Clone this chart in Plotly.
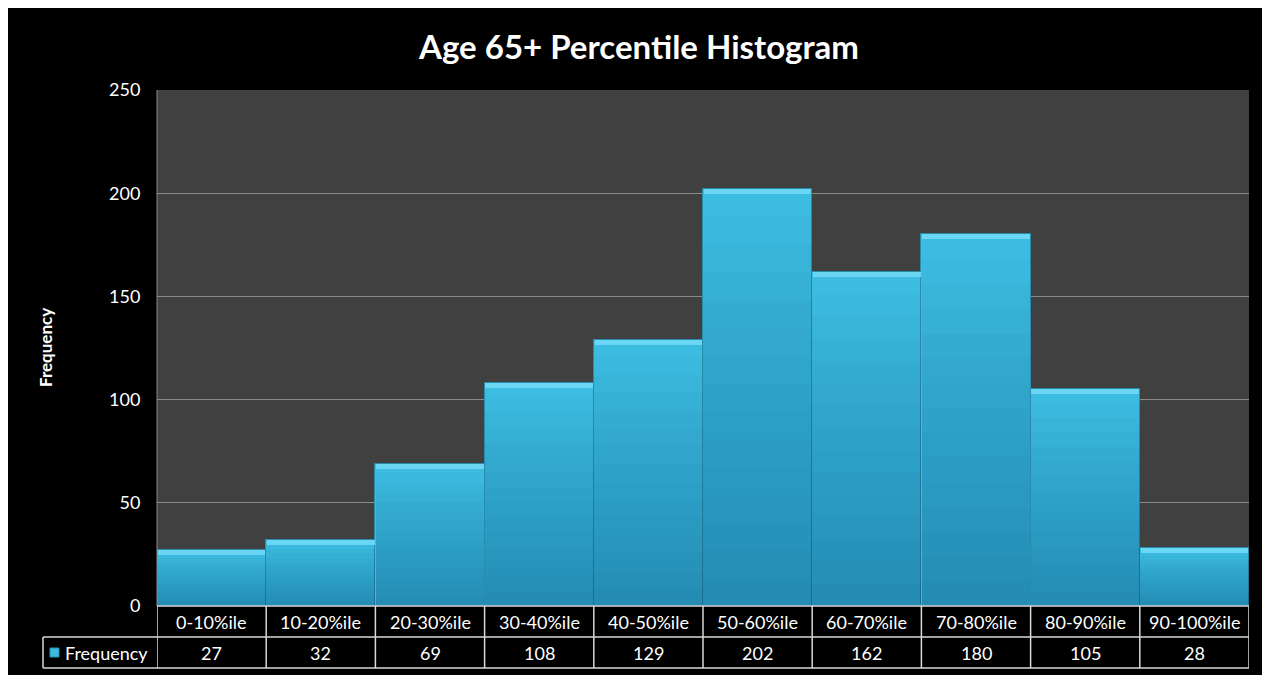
import plotly.graph_objects as go

categories = ["0-10%ile", "10-20%ile", "20-30%ile", "30-40%ile", "40-50%ile",
              "50-60%ile", "60-70%ile", "70-80%ile", "80-90%ile", "90-100%ile"]
frequency = [27, 32, 69, 108, 129, 202, 162, 180, 105, 28]
y_ticks = [0, 50, 100, 150, 200, 250]
series_name = "Frequency"
title_text = "Age 65+ Percentile Histogram"

# page has an 8px body margin; figure sized to fill the rest of the window
OX, OY = 8, 8
W, H = 1262, 667
L, R, T, B = 149, 21, 82, 69
PW, PH = W - L - R, H - T - B

def px_x(sx):
    return (sx - OX - L) / PW

def px_y(sy):
    return (H - B - (sy - OY)) / PH

FONT = "Lato"
xs = list(range(len(categories)))

fig = go.Figure()
fig.add_trace(go.Bar(x=xs, y=frequency, width=1.0,
                     marker=dict(color="#3cbce1", line=dict(color="#2a8cab", width=1)),
                     hoverinfo="skip", showlegend=False))
steps = 14
for k in range(1, steps + 1):
    frac = 1 - k / (steps + 1)
    fig.add_trace(go.Bar(x=xs, y=[v * frac for v in frequency], width=0.995,
                         marker=dict(color="rgba(0,40,70,0.022)", line=dict(width=0)),
                         hoverinfo="skip", showlegend=False))
hl = 2.4
fig.add_trace(go.Bar(x=xs, y=[hl] * len(frequency), base=[v - hl for v in frequency], width=0.985,
                     marker=dict(color="#6ad6f3", line=dict(width=0)),
                     hoverinfo="skip", showlegend=False))

shapes = []
shapes.append(dict(type="line", xref="paper", yref="paper", x0=0, x1=0, y0=0, y1=1,
                   line=dict(color="#8a8a8a", width=1)))
tcol = "#d9d9d9"
y_row1 = px_y(637)
y_row2 = px_y(668)
shapes.append(dict(type="line", xref="paper", yref="paper", x0=0, x1=1, y0=0, y1=0,
                   line=dict(color=tcol, width=1.5)))
shapes.append(dict(type="line", xref="paper", yref="paper", x0=px_x(43), x1=1, y0=y_row1, y1=y_row1,
                   line=dict(color=tcol, width=1.5)))
shapes.append(dict(type="line", xref="paper", yref="paper", x0=px_x(43), x1=1, y0=y_row2, y1=y_row2,
                   line=dict(color=tcol, width=1.5)))
shapes.append(dict(type="line", xref="paper", yref="paper", x0=px_x(43), x1=px_x(43), y0=y_row1, y1=y_row2,
                   line=dict(color=tcol, width=1.5)))
for i in range(len(categories) + 1):
    xb = i - 0.5
    shapes.append(dict(type="line", xref="x", yref="paper", x0=xb, x1=xb, y0=0, y1=y_row2,
                       line=dict(color=tcol, width=1.5)))
shapes.append(dict(type="rect", xref="paper", yref="paper", x0=px_x(50), x1=px_x(59),
                   y0=px_y(657), y1=px_y(648), fillcolor="#3cbce1", line=dict(color="#2a8cab", width=1)))

annotations = []
for i, (c, v) in enumerate(zip(categories, frequency)):
    annotations.append(dict(x=i, y=(0 + y_row1) / 2, xref="x", yref="paper", text=c, showarrow=False,
                            font=dict(family=FONT, size=18, color="white"), xanchor="center", yanchor="middle"))
    annotations.append(dict(x=i, y=(y_row1 + y_row2) / 2, xref="x", yref="paper", text=str(v), showarrow=False,
                            font=dict(family=FONT, size=18, color="white"), xanchor="center", yanchor="middle"))
annotations.append(dict(x=px_x(63), y=(y_row1 + y_row2) / 2, xref="paper", yref="paper", text=series_name,
                        showarrow=False, font=dict(family=FONT, size=18, color="white"),
                        xanchor="left", yanchor="middle"))
annotations.append(dict(x=px_x(45), y=0.5, xref="paper", yref="paper", text="<b>Frequency</b>",
                        showarrow=False, textangle=-90, font=dict(family=FONT, size=17, color="white"),
                        xanchor="center", yanchor="middle"))

fig.update_layout(
    width=W, height=H,
    margin=dict(l=L, r=R, t=T, b=B, pad=0),
    paper_bgcolor="black", plot_bgcolor="#404040",
    barmode="overlay", bargap=0,
    title=dict(text="<b>" + title_text + "</b>", x=0.5, xref="container", y=1 - (47 - OY) / H, yref="container",
               xanchor="center", yanchor="middle",
               font=dict(family=FONT, size=33, color="white")),
    xaxis=dict(range=[-0.5, len(categories) - 0.5], showticklabels=False, showgrid=False,
               zeroline=False, fixedrange=True),
    yaxis=dict(range=[0, 250], tickvals=y_ticks, showgrid=True, gridcolor="#8a8a8a", gridwidth=1,
               zeroline=False, tickfont=dict(family=FONT, size=18, color="white"),
               ticks="outside", ticklen=12, tickcolor="rgba(0,0,0,0)", fixedrange=True),
    shapes=shapes, annotations=annotations,
    font=dict(family=FONT, color="white"),
)

fig.write_html("out.html")
